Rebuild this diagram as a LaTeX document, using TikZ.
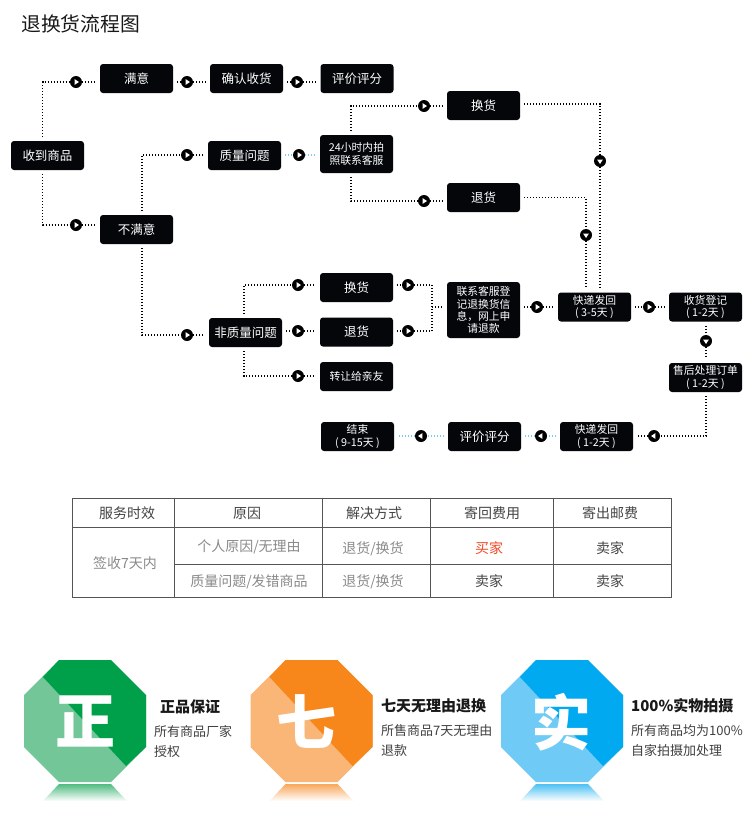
\documentclass[tikz,border=0pt]{standalone}
\usepackage{fontspec}
\usepackage{xcolor}
\setmainfont{Noto Sans CJK SC}
\usetikzlibrary{arrows.meta,fadings}
\definecolor{boxblack}{HTML}{04060A}
\definecolor{dotblue}{HTML}{7CCBF5}
\definecolor{gridgray}{HTML}{555555}
\definecolor{cellgray}{HTML}{8A8A8A}
\definecolor{celldark}{HTML}{444444}
\definecolor{cellred}{HTML}{F04A24}
\definecolor{greendark}{HTML}{00A04A}
\definecolor{greenlight}{HTML}{72C698}
\definecolor{orangedark}{HTML}{F7861B}
\definecolor{orangelight}{HTML}{FAB676}
\definecolor{bluedark}{HTML}{00A9F0}
\definecolor{bluelight}{HTML}{6FCBF5}
\tikzset{
box/.style={fill=boxblack,text=white,rounded corners=3pt,minimum width=73pt,minimum height=29pt,inner sep=0pt,outer sep=4pt,align=center,font=\fontsize{12.5}{14}\selectfont},
smallbox/.style={box,font=\fontsize{10.8}{12.2}\selectfont},
tipdot/.style={circle,fill=black,minimum size=12pt,inner sep=0pt},
tipright/.style={tipdot,path picture={\fill[white,shift={(path picture bounding box.center)}](-1.4pt,-2.9pt)--(3pt,0pt)--(-1.4pt,2.9pt)--cycle;}},
tipleft/.style={tipdot,path picture={\fill[white,shift={(path picture bounding box.center)}](1.4pt,-2.9pt)--(-3pt,0pt)--(1.4pt,2.9pt)--cycle;}},
tipdown/.style={tipdot,path picture={\fill[white,shift={(path picture bounding box.center)}](-2.9pt,1.4pt)--(0pt,-3pt)--(2.9pt,1.4pt)--cycle;}},
dotline/.style={draw=black,line width=1.5pt,dash pattern=on 1.2pt off 1.8pt},
blueline/.style={draw=dotblue,line width=1.5pt,dash pattern=on 1.2pt off 1.8pt},
gridline/.style={draw=gridgray,line width=0.9pt},
head/.style={text=celldark,font=\fontsize{14}{16}\selectfont},
cell/.style={text=cellgray,font=\fontsize{14}{16}\selectfont},
badgeword/.style={text=white,font=\fontsize{60}{60}\selectfont\bfseries},
bigtitle/.style={anchor=west,text=black!90,inner sep=0pt,font=\fontsize{15}{17}\selectfont\bfseries},
smalltext/.style={anchor=west,text=black!75,inner sep=0pt,font=\fontsize{13}{15}\selectfont}
}
\begin{document}
\begin{tikzpicture}[x=1pt,y=-1pt]
\useasboundingbox[fill=white](0,0)rectangle(750,833);
\node[anchor=west,inner sep=0pt,text=black!90,font=\fontsize{19.8}{22}\selectfont](title)at(21,24){退换货流程图};
\node[box](recv)at(47.5,155.5){收到商品};
\node[box](good)at(136.5,78.5){满意};
\node[box](confirm)at(246.5,78.5){确认收货};
\node[box](rate)at(357,78.5){评价评分};
\node[box](quality)at(244.5,155.5){质量问题};
\node[box](bad)at(136.5,229.5){不满意};
\node[smallbox,minimum height=38pt](call)at(356.5,154){24小时内拍\\照联系客服};
\node[box](swapa)at(483.5,105.5){换货};
\node[box](backa)at(483.5,197.5){退货};
\node[box](other)at(245.5,332.5){非质量问题};
\node[box](swapb)at(356.5,287.5){换货};
\node[box](backb)at(356.5,332){退货};
\node[smallbox,minimum height=29pt](give)at(356.5,376.5){转让给亲友};
\node[smallbox,minimum height=56pt](apply)at(483.5,310){联系客服登\\记退换货信\\息，网上申\\请退款};
\node[smallbox](shipa)at(594.5,307){快递发回\\( 3-5天 )};
\node[smallbox](sign)at(705.5,307){收货登记\\( 1-2天 )};
\node[smallbox](after)at(705.5,377.5){售后处理订单\\( 1-2天 )};
\node[smallbox](shipb)at(596.5,436.5){快递发回\\( 1-2天 )};
\node[box](rateb)at(484.5,436.5){评价评分};
\node[smallbox](finish)at(357.5,436.5){结束\\( 9-15天 )};
\node[tipright](ma)at(76,82){};
\node[tipright](mb)at(76,225){};
\node[tipright](mc)at(187,82){};
\node[tipright](md)at(297,82){};
\node[tipright](me)at(187,155){};
\node[tipright](mf)at(187,335){};
\node[tipright](mg)at(299,155){};
\node[tipright](mh)at(424,106){};
\node[tipright](mi)at(424,201){};
\node[tipdown](mj)at(600,161){};
\node[tipdown](mk)at(586,235){};
\node[tipright](ml)at(298,285){};
\node[tipright](mm)at(298,331){};
\node[tipright](mn)at(298,376){};
\node[tipright](mo)at(408,285){};
\node[tipright](mp)at(408,331){};
\node[tipright](mq)at(537,307){};
\node[tipright](mr)at(649,307){};
\node[tipdown](ms)at(706,341){};
\node[tipleft](mt)at(654,436){};
\node[tipleft](mu)at(541,436){};
\node[tipleft](mv)at(421,436){};
\coordinate(join)at(432,307);
\draw[dotline]([xshift=-5pt]recv.north)|-(ma);
\draw[dotline](ma)--(ma-|good.west);
\draw[dotline]([xshift=-5pt]recv.south)|-(mb);
\draw[dotline](mb)--(mb-|bad.west);
\draw[dotline](mc-|good.east)--(mc);
\draw[dotline](mc)--(mc-|confirm.west);
\draw[dotline](md-|confirm.east)--(md);
\draw[dotline](md)--(md-|rate.west);
\draw[dotline]([xshift=5.5pt]bad.north)|-(me);
\draw[dotline](me)--(me-|quality.west);
\draw[dotline]([xshift=5.5pt]bad.south)|-(mf);
\draw[dotline](mf)--(mf-|other.west);
\draw[blueline](mg-|quality.east)--(mg);
\draw[blueline](mg)--(mg-|call.west);
\draw[dotline]([xshift=-5.5pt]call.north)|-(mh);
\draw[dotline](mh)--(mh-|swapa.west);
\draw[dotline]([xshift=-5.5pt]call.south)|-(mi);
\draw[dotline](mi)--(mi-|backa.west);
\draw[dotline]([yshift=1.5pt]swapa.east)-|(mj);
\draw[dotline](mj)--(mj|-shipa.north);
\draw[dotline](backa.east)-|(mk);
\draw[dotline](mk)--(mk|-shipa.north);
\draw[dotline]([xshift=-1.5pt]other.north)|-(ml);
\draw[dotline](ml)--(ml-|swapb.west);
\draw[dotline](mm-|other.east)--(mm);
\draw[dotline](mm)--(mm-|backb.west);
\draw[dotline]([xshift=-1.5pt]other.south)|-(mn);
\draw[dotline](mn)--(mn-|give.west);
\draw[dotline](mo-|swapb.east)--(mo);
\draw[dotline](mo)-|(join);
\draw[dotline](mp-|backb.east)--(mp);
\draw[dotline](mp)-|(join);
\draw[dotline](join)--(join-|apply.west);
\draw[dotline](mq-|apply.east)--(mq);
\draw[dotline](mq)--(mq-|shipa.west);
\draw[dotline](mr-|shipa.east)--(mr);
\draw[dotline](mr)--(mr-|sign.west);
\draw[dotline](ms|-sign.south)--(ms);
\draw[dotline](ms)--(ms|-after.north);
\draw[dotline](ms|-after.south)|-(mt);
\draw[dotline](mt)--(mt-|shipb.east);
\draw[blueline](mu-|shipb.west)--(mu);
\draw[blueline](mu)--(mu-|rateb.east);
\draw[blueline](mv-|rateb.west)--(mv);
\draw[blueline](mv)--(mv-|finish.east);
\draw[gridline](72,498)rectangle(671,597);
\draw[gridline](72,527)--(671,527);
\draw[gridline](174,564)--(671,564);
\draw[gridline](174,498)--(174,597);
\draw[gridline](322,498)--(322,597);
\draw[gridline](430,498)--(430,597);
\draw[gridline](553,498)--(553,597);
\node[head](ha)at(127,513){服务时效};
\node[head](hb)at(247,513){原因};
\node[head](hc)at(374,513){解决方式};
\node[head](hd)at(492,513){寄回费用};
\node[head](he)at(610,513){寄出邮费};
\node[cell](ca)at(125,563){签收7天内};
\node[cell](cb)at(249,547){个人原因/无理由};
\node[cell](cc)at(249,582){质量问题/发错商品};
\node[cell](cd)at(373,549){退货/换货};
\node[cell](ce)at(373,582){退货/换货};
\node[cell,text=cellred](cf)at(489,548){买家};
\node[cell,text=celldark](cg)at(489,581){卖家};
\node[cell,text=celldark](ch)at(610,548){卖家};
\node[cell,text=celldark](ci)at(610,581){卖家};
\begin{scope}[shift={(85,721)}]
\fill[greenlight](-26,-61)--(26,-61)--(61,-26)--(61,26)--(26,61)--(-26,61)--(-61,26)--(-61,-26)--cycle;
\fill[greendark](-42,-44)--(-26,-61)--(26,-61)--(61,-26)--(61,26)--(41,45)--cycle;
\fill[greenlight!70!greendark,path fading=south](-26,63)--(26,63)--(42,80)--(-42,80)--cycle;
\node[badgeword](wa)at(0,0){正};
\end{scope}
\node[bigtitle](ta)at(160,707){正品保证};
\node[smalltext](tb)at(154,732){所有商品厂家};
\node[smalltext](tc)at(154,752){授权};
\begin{scope}[shift={(311.5,721)}]
\fill[orangelight](-26,-61)--(26,-61)--(61,-26)--(61,26)--(26,61)--(-26,61)--(-61,26)--(-61,-26)--cycle;
\fill[orangedark](-42,-44)--(-26,-61)--(26,-61)--(61,-26)--(61,26)--(41,45)--cycle;
\fill[orangelight!70!orangedark,path fading=south](-26,63)--(26,63)--(42,80)--(-42,80)--cycle;
\node[badgeword](wb)at(-5,1){七};
\end{scope}
\node[bigtitle](td)at(381,706){七天无理由退换};
\node[smalltext](te)at(381,731){所售商品7天无理由};
\node[smalltext](tf)at(381,751){退款};
\begin{scope}[shift={(562,721)}]
\fill[bluelight](-26,-61)--(26,-61)--(61,-26)--(61,26)--(26,61)--(-26,61)--(-61,26)--(-61,-26)--cycle;
\fill[bluedark](-42,-44)--(-26,-61)--(26,-61)--(61,-26)--(61,26)--(41,45)--cycle;
\fill[bluelight!70!bluedark,path fading=south](-26,63)--(26,63)--(42,80)--(-42,80)--cycle;
\node[badgeword](wc)at(-1,1){实};
\end{scope}
\node[bigtitle](tg)at(631,706){100\%实物拍摄};
\node[smalltext](th)at(631,731){所有商品均为100\%};
\node[smalltext](ti)at(631,751){自家拍摄加处理};
\end{tikzpicture}
\end{document}
